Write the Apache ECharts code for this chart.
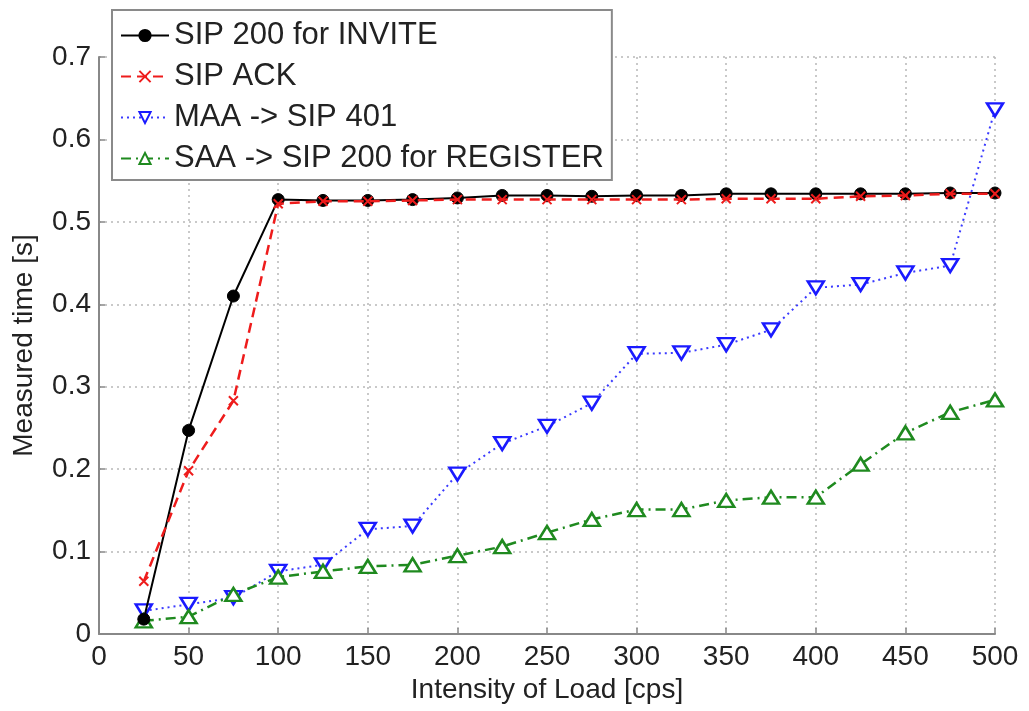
<!DOCTYPE html>
<html>
<head>
<meta charset="utf-8">
<script src="https://cdn.jsdelivr.net/npm/echarts@6/dist/echarts.min.js"></script>
<style>
html,body{margin:0;padding:0;background:#fff;}
#chart{width:1029px;height:711px;}
</style>
</head>
<body>
<div id="chart"></div>
<script>
const loads = [25, 50, 75, 100, 125, 150, 175, 200, 225, 250, 275, 300, 325, 350, 375, 400, 425, 450, 475, 500];
const sip200Invite = [0.018, 0.247, 0.410, 0.527, 0.526, 0.526, 0.527, 0.529, 0.532, 0.532, 0.531, 0.532, 0.532, 0.534, 0.534, 0.534, 0.534, 0.534, 0.535, 0.535];
const sipAck = [0.064, 0.198, 0.283, 0.522, 0.525, 0.525, 0.526, 0.527, 0.527, 0.527, 0.527, 0.527, 0.527, 0.528, 0.528, 0.528, 0.531, 0.532, 0.534, 0.534];
const maaSip401 = [0.028, 0.036, 0.044, 0.076, 0.084, 0.127, 0.131, 0.194, 0.231, 0.252, 0.280, 0.340, 0.341, 0.351, 0.369, 0.420, 0.424, 0.438, 0.447, 0.636];
const saaSip200Reg = [0.016, 0.021, 0.048, 0.069, 0.076, 0.082, 0.084, 0.095, 0.106, 0.123, 0.139, 0.151, 0.151, 0.162, 0.166, 0.166, 0.206, 0.244, 0.269, 0.284];
const seriesNames = ['SIP 200 for INVITE', 'SIP ACK', 'MAA -> SIP 401', 'SAA -> SIP 200 for REGISTER'];
const xTicks = [0, 50, 100, 150, 200, 250, 300, 350, 400, 450, 500];
const yTicks = [0, 0.1, 0.2, 0.3, 0.4, 0.5, 0.6, 0.7];

const FONT = '"Liberation Sans", Arial, Helvetica, sans-serif';
const pair = arr => loads.map((x, i) => [x, arr[i]]);
const xMark = 'path://M0,0 L10,10 M10,0 L0,10';

const chart = echarts.init(document.getElementById('chart'), null, {renderer: 'canvas'});
chart.setOption({
  animation: false,
  backgroundColor: '#ffffff',
  textStyle: {fontFamily: FONT},
  grid: {left: 99, right: 34, top: 57, bottom: 77, containLabel: false},
  legend: {
    left: 112, top: 10,
    orient: 'vertical',
    backgroundColor: '#fff',
    borderColor: '#8a8a8a',
    borderWidth: 2,
    padding: [10, 8, 6, 8],
    itemGap: 10,
    itemWidth: 48,
    itemHeight: 14,
    textStyle: {fontSize: 31, lineHeight: 30, color: '#222', fontFamily: FONT},
    data: seriesNames
  },
  xAxis: {
    type: 'value', min: 0, max: 500, interval: 50,
    name: 'Intensity of Load [cps]', nameLocation: 'middle', nameGap: 42,
    nameTextStyle: {fontSize: 28, color: '#222', fontFamily: FONT},
    axisLine: {lineStyle: {color: '#888', width: 2}},
    axisTick: {inside: true, length: 6, lineStyle: {color: '#888', width: 1.5}},
    axisLabel: {fontSize: 28, color: '#222', margin: 9, fontFamily: FONT,
      formatter: v => xTicks.includes(v) ? String(v) : ''},
    splitLine: {show: true, lineStyle: {color: '#b8b8b8', type: [2, 4], width: 1.5}}
  },
  yAxis: {
    type: 'value', min: 0, max: 0.7, interval: 0.1,
    name: 'Measured time [s]', nameLocation: 'middle', nameGap: 61,
    nameTextStyle: {fontSize: 28, color: '#222', fontFamily: FONT},
    axisLine: {show: true, lineStyle: {color: '#888', width: 2}},
    axisTick: {show: true, inside: true, length: 6, lineStyle: {color: '#888', width: 1.5}},
    axisLabel: {fontSize: 28, color: '#222', margin: 8, fontFamily: FONT,
      formatter: v => { const t = yTicks.find(k => Math.abs(k - v) < 1e-9); return t === undefined ? '' : (t === 0 ? '0' : t.toFixed(1)); }},
    splitLine: {show: true, lineStyle: {color: '#b8b8b8', type: [2, 4], width: 1.5}}
  },
  series: [
    {
      name: seriesNames[0], type: 'line', data: pair(sip200Invite), z: 4,
      symbol: 'circle', symbolSize: 12,
      lineStyle: {color: '#000', width: 2, type: 'solid'},
      itemStyle: {color: '#000', borderColor: '#000', borderWidth: 1}
    },
    {
      name: seriesNames[1], type: 'line', data: pair(sipAck), z: 5,
      symbol: xMark, symbolSize: 9,
      lineStyle: {color: '#ee1c1c', width: 2.5, type: [10, 6]},
      itemStyle: {color: 'none', borderColor: '#ee1c1c', borderWidth: 2}
    },
    {
      name: seriesNames[2], type: 'line', data: pair(maaSip401), z: 3,
      symbol: 'triangle', symbolSize: [16, 13], symbolRotate: 180,
      lineStyle: {color: '#3a3aff', width: 2, type: [2, 4]},
      itemStyle: {color: '#fff', borderColor: '#1a1aff', borderWidth: 2.5}
    },
    {
      name: seriesNames[3], type: 'line', data: pair(saaSip200Reg), z: 3,
      symbol: 'triangle', symbolSize: [16, 13],
      lineStyle: {color: '#1f8a1f', width: 2.5, type: [10, 5, 2, 5]},
      itemStyle: {color: '#fff', borderColor: '#1f8a1f', borderWidth: 2.5}
    }
  ]
});
</script>
</body>
</html>
